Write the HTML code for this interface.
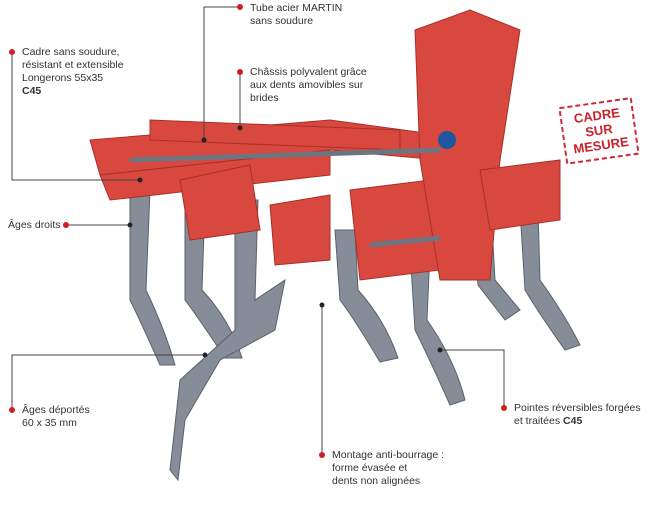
<!DOCTYPE html>
<html><head><meta charset="utf-8"><style>
body{margin:0;background:#fff;width:656px;height:515px;overflow:hidden;position:relative;font-family:"Liberation Sans",sans-serif}
.t{position:absolute;font-size:10.5px;line-height:13px;color:#333}
svg{position:absolute;left:0;top:0}
</style></head><body>
<svg width="656" height="515">
<!-- tines -->
<g fill="#858d98" stroke="#5a626b" stroke-width="1">
<path d="M130 190 L150 190 L146 290 Q165 330 175 365 L160 365 Q140 320 130 300 Z"/>
<path d="M185 200 L205 200 L202 290 Q230 320 242 358 L225 358 Q200 320 185 300 Z"/>
<path d="M235 200 L258 200 L255 300 L285 280 L275 330 L220 360 L185 420 L178 480 L170 470 L180 380 L235 330 Z"/>
<path d="M335 230 L355 230 L358 290 Q385 320 398 358 L380 362 Q355 320 340 300 Z"/>
<path d="M410 250 L430 250 L427 320 Q455 360 465 400 L450 405 Q430 360 415 330 Z"/>
<path d="M470 190 L490 190 L495 280 L520 310 L505 320 L478 285 Z"/>
<path d="M520 210 L538 210 L540 280 Q565 315 580 345 L565 350 Q540 315 525 290 Z"/>
</g>
<!-- frame -->
<g fill="#d8483e" stroke="#a8302a" stroke-width="1">
<path d="M90 140 L330 120 L440 135 L440 160 L330 150 L100 175 Z"/>
<path d="M100 175 L330 150 L330 175 L110 200 Z"/>
<path d="M150 120 L400 130 L400 150 L150 140 Z"/>
<path d="M180 180 L250 165 L260 230 L190 240 Z"/>
<path d="M270 205 L330 195 L330 260 L275 265 Z"/>
<path d="M350 190 L430 180 L440 270 L360 280 Z"/>
<path d="M415 30 L470 10 L520 30 L500 160 L490 280 L440 280 L420 160 Z"/>
<path d="M480 170 L560 160 L560 220 L490 230 Z"/>
</g>
<circle cx="447" cy="140" r="9" fill="#1e56a0"/>
<g stroke="#6d7580" stroke-width="5"><line x1="370" y1="245" x2="440" y2="238"/><line x1="130" y1="160" x2="440" y2="150"/></g>
<!-- stamp -->
<g transform="rotate(-8 598 131)">
<rect x="563" y="103" width="72" height="56" fill="#fff" stroke="#d0283a" stroke-width="2" stroke-dasharray="5 3"/>
<text x="599" y="120" text-anchor="middle" font-weight="bold" font-size="13" fill="#c8232f" font-family="Liberation Sans">CADRE</text>
<text x="599" y="135" text-anchor="middle" font-weight="bold" font-size="13" fill="#c8232f" font-family="Liberation Sans">SUR</text>
<text x="599" y="150" text-anchor="middle" font-weight="bold" font-size="13" fill="#c8232f" font-family="Liberation Sans">MESURE</text>
</g>
<!-- leaders -->
<g stroke="#444" stroke-width="1" fill="none">
<polyline points="12,52 12,180 140,180"/>
<polyline points="240,7 204,7 204,140"/>
<polyline points="240,72 240,128"/>
<polyline points="66,225 130,225"/>
<polyline points="12,410 12,355 205,355"/>
<polyline points="322,455 322,305"/>
<polyline points="504,408 504,350 440,350"/>
</g>
<g fill="#d01f25"><circle cx="12" cy="52" r="3"/><circle cx="240" cy="7" r="3"/><circle cx="240" cy="72" r="3"/><circle cx="66" cy="225" r="3"/><circle cx="12" cy="410" r="3"/><circle cx="322" cy="455" r="3"/><circle cx="504" cy="408" r="3"/></g>
<g fill="#222"><circle cx="240" cy="128" r="2.5"/><circle cx="322" cy="305" r="2.5"/><circle cx="140" cy="180" r="2.5"/><circle cx="130" cy="225" r="2.5"/><circle cx="205" cy="355" r="2.5"/><circle cx="440" cy="350" r="2.5"/><circle cx="204" cy="140" r="2.5"/></g>
</svg>
<div class="t" style="left:22px;top:46px">Cadre sans soudure,<br>résistant et extensible<br>Longerons 55x35<br><b>C45</b></div>
<div class="t" style="left:250px;top:2px">Tube acier MARTIN<br>sans soudure</div>
<div class="t" style="left:250px;top:66px">Châssis polyvalent grâce<br>aux dents amovibles sur<br>brides</div>
<div class="t" style="left:8px;top:219px">Âges droits</div>
<div class="t" style="left:22px;top:404px">Âges déportés<br>60 x 35 mm</div>
<div class="t" style="left:332px;top:449px">Montage anti-bourrage :<br>forme évasée et<br>dents non alignées</div>
<div class="t" style="left:514px;top:402px">Pointes réversibles forgées<br>et traitées <b>C45</b></div>
</body></html>
